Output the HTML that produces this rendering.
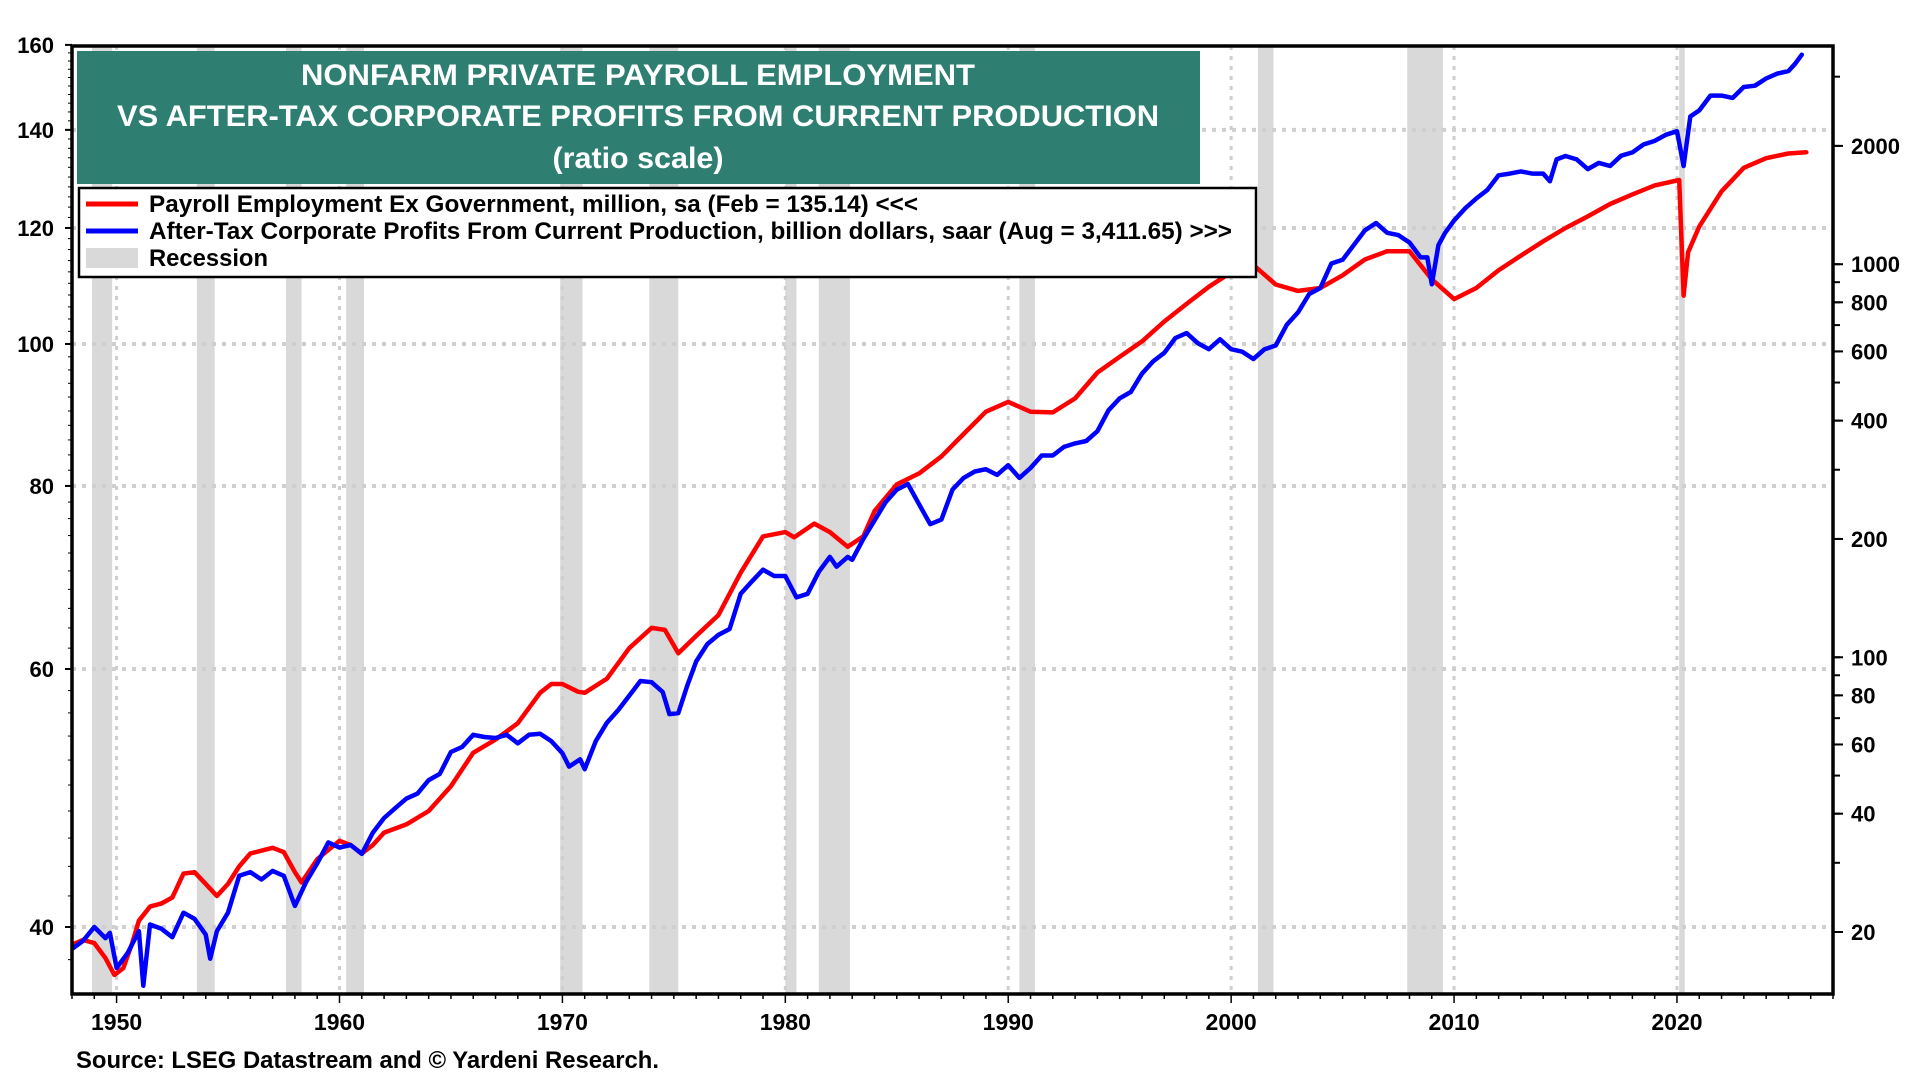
<!DOCTYPE html>
<html><head><meta charset="utf-8">
<style>
html,body{margin:0;padding:0;background:#fff;}
svg{display:block;font-family:"Liberation Sans",Arial,sans-serif;font-weight:bold;}
</style></head>
<body>
<svg id="chart" width="1920" height="1080" viewBox="0 0 1920 1080"></svg>
<script>
const recessionStarts=[1948.9,1953.6,1957.6,1960.3,1969.9,1973.9,1980.0,1981.5,1990.5,2001.2,2007.9,2020.1];
const recessionEnds=[1949.8,1954.4,1958.3,1961.1,1970.9,1975.2,1980.5,1982.9,1991.2,2001.9,2009.5,2020.35];
const payrollYears=[1948.0,1948.5,1949.0,1949.5,1949.9,1950.3,1950.7,1951.0,1951.5,1952.0,1952.5,1953.0,1953.5,1954.0,1954.5,1955.0,1955.5,1956.0,1957.0,1957.5,1958.0,1958.3,1959.0,1960.0,1960.5,1961.0,1961.5,1962.0,1963.0,1964.0,1965.0,1966.0,1967.0,1968.0,1969.0,1969.5,1970.0,1970.7,1971.0,1972.0,1973.0,1974.0,1974.6,1975.2,1976.0,1977.0,1978.0,1979.0,1980.0,1980.4,1981.3,1982.0,1982.8,1983.5,1984.0,1985.0,1986.0,1987.0,1988.0,1989.0,1990.0,1991.0,1992.0,1993.0,1994.0,1995.0,1996.0,1997.0,1998.0,1999.0,2000.0,2001.0,2002.0,2003.0,2004.0,2005.0,2006.0,2007.0,2008.0,2009.0,2010.0,2011.0,2012.0,2013.0,2014.0,2015.0,2016.0,2017.0,2018.0,2019.0,2020.1,2020.3,2020.5,2021.0,2022.0,2023.0,2024.0,2025.0,2025.8];
const payrollValues=[38.9,39.2,39.0,38.1,37.1,37.5,39.0,40.4,41.3,41.5,41.9,43.5,43.6,42.8,42.0,42.8,44.0,44.9,45.3,45.0,43.6,42.9,44.5,45.8,45.5,44.9,45.5,46.4,47.0,48.0,49.9,52.6,53.7,55.1,57.8,58.6,58.6,57.9,57.8,59.1,62.0,64.0,63.8,61.5,63.2,65.3,69.8,73.9,74.4,73.8,75.4,74.4,72.7,73.9,76.9,80.2,81.6,83.8,86.8,89.9,91.3,89.9,89.8,91.8,95.6,98.0,100.4,103.6,106.5,109.4,111.9,113.2,109.8,108.7,109.2,111.4,114.2,115.7,115.7,110.7,107.3,109.2,112.3,114.9,117.5,120.0,122.2,124.6,126.5,128.3,129.4,107.9,115.5,120.3,127.1,131.9,133.9,134.9,135.14];
const profitYears=[1948.0,1948.5,1949.0,1949.5,1949.7,1950.0,1950.5,1951.0,1951.2,1951.5,1952.0,1952.5,1953.0,1953.5,1954.0,1954.2,1954.5,1955.0,1955.5,1956.0,1956.5,1957.0,1957.5,1958.0,1958.5,1959.0,1959.5,1960.0,1960.5,1961.0,1961.5,1962.0,1962.5,1963.0,1963.5,1964.0,1964.5,1965.0,1965.5,1966.0,1966.5,1967.0,1967.5,1968.0,1968.5,1969.0,1969.5,1970.0,1970.3,1970.8,1971.0,1971.5,1972.0,1972.5,1973.0,1973.5,1974.0,1974.5,1974.8,1975.2,1975.6,1976.0,1976.5,1977.0,1977.5,1978.0,1978.5,1979.0,1979.5,1980.0,1980.5,1981.0,1981.5,1982.0,1982.3,1982.8,1983.0,1983.5,1984.0,1984.5,1985.0,1985.5,1986.0,1986.5,1987.0,1987.5,1988.0,1988.5,1989.0,1989.5,1990.0,1990.5,1991.0,1991.5,1992.0,1992.5,1993.0,1993.5,1994.0,1994.5,1995.0,1995.5,1996.0,1996.5,1997.0,1997.5,1998.0,1998.5,1999.0,1999.5,2000.0,2000.5,2001.0,2001.5,2002.0,2002.5,2003.0,2003.5,2004.0,2004.5,2005.0,2005.5,2006.0,2006.5,2007.0,2007.5,2008.0,2008.5,2008.8,2009.0,2009.3,2009.6,2010.0,2010.5,2011.0,2011.5,2012.0,2012.5,2013.0,2013.5,2014.0,2014.3,2014.6,2015.0,2015.5,2016.0,2016.5,2017.0,2017.5,2018.0,2018.5,2019.0,2019.5,2020.0,2020.3,2020.6,2021.0,2021.5,2022.0,2022.5,2023.0,2023.5,2024.0,2024.5,2025.0,2025.3,2025.6];
const profitValues=[18.1,19.0,20.6,19.3,19.9,16.2,17.7,20.1,14.6,20.9,20.4,19.4,22.4,21.6,19.7,17.1,20.1,22.4,27.8,28.4,27.2,28.6,27.8,23.3,26.8,29.9,33.8,32.8,33.3,31.6,35.8,39.0,41.3,43.7,45.0,48.7,50.5,57.4,59.1,63.5,62.7,62.3,63.5,60.4,63.5,63.9,61.2,57.0,52.7,55.0,51.9,61.2,68.2,73.3,79.9,87.0,86.4,81.6,71.7,72.1,84.6,97.6,108,114,118,145,156,167,161,161,142,145,165,180,170,180,177,200,223,248,267,276,245,218,224,267,286,297,301,291,308,286,303,326,326,343,350,355,376,425,456,473,527,566,595,649,668,630,608,644,608,599,574,608,621,702,754,840,870,1004,1026,1118,1219,1273,1202,1186,1136,1041,1041,889,1118,1202,1292,1388,1470,1546,1684,1700,1722,1700,1700,1625,1848,1885,1848,1746,1810,1778,1888,1925,2016,2060,2134,2180,1778,2376,2462,2686,2686,2650,2824,2845,2968,3055,3100,3236,3411.65];
const leftTicks=[40,60,80,100,120,140,160];
const rightTicks=[20,40,60,80,100,200,400,600,800,1000,2000];
const yearTicks=[1950,1960,1970,1980,1990,2000,2010,2020];

const NS='http://www.w3.org/2000/svg';
const svg=document.getElementById('chart');
const PL=72,PR=1833,PT=46,PB=994;
const X0=1948.0,X1=2027.0;
function xs(t){return PL+(t-X0)/(X1-X0)*(PR-PL);}
function yl(v){return 927-Math.log(v/40)*636.3;}
function yr(v){return 932-Math.log(v/20)*170.7;}
function mk(tag,attrs,parent){const e=document.createElementNS(NS,tag);for(const k in attrs)e.setAttribute(k,attrs[k]);(parent||svg).appendChild(e);return e;}

const plot=mk('g',{});


const clip=mk('clipPath',{id:'pc'});
mk('rect',{x:PL,y:PT,width:PR-PL,height:PB-PT},clip);
const inner=mk('g',{'clip-path':'url(#pc)'},plot);

for(let i=0;i<recessionStarts.length;i++){
  const r=mk('rect',{x:xs(recessionStarts[i]),y:PT,width:Math.max(4,xs(recessionEnds[i])-xs(recessionStarts[i])),height:PB-PT,fill:'#d9d9d9'},inner);
  
  
}
leftTicks.forEach(v=>{
  if(v===160)return;
  const l=mk('line',{x1:PL,x2:PR,y1:yl(v),y2:yl(v),stroke:'#cfcfcf','stroke-width':4,'stroke-dasharray':'4 6'},inner);
  
  
});
yearTicks.forEach(t=>{
  const l=mk('line',{x1:xs(t),x2:xs(t),y1:PT,y2:PB,stroke:'#cfcfcf','stroke-width':3,'stroke-dasharray':'4 6'},inner);
  
  
});
function line(xv,yv,sc,color,name){
  let d='';
  for(let i=0;i<xv.length;i++)d+=(i?'L':'M')+xs(xv[i]).toFixed(1)+' '+sc(yv[i]).toFixed(1);
  const p=mk('path',{d:d,fill:'none',stroke:color,'stroke-width':4.5,'stroke-linejoin':'round','stroke-linecap':'round'},inner);
  
  
}
line(payrollYears,payrollValues,yl,'#ff0000','payroll-line');
line(profitYears,profitValues,yr,'#0000ff','profits-line');

const fr=mk('rect',{x:PL,y:PT,width:PR-PL,height:PB-PT,fill:'none',stroke:'#000','stroke-width':3.5});



leftTicks.forEach(v=>{
  mk('line',{x1:PL-7,x2:PL,y1:yl(v),y2:yl(v),stroke:'#000','stroke-width':2});
  const t=mk('text',{x:PL-18,y:yl(v)+8,'text-anchor':'end','font-size':22,fill:'#000'});
  t.textContent=v;
  
  
});
for(let v=38;v<=160;v+=2){ mk('line',{x1:PL-4,x2:PL,y1:yl(v),y2:yl(v),stroke:'#000','stroke-width':1});}
const minorR=[20,30,40,50,60,70,80,90,100,200,300,400,500,600,700,800,900,1000,2000,3000];
minorR.forEach(v=>mk('line',{x1:PR,x2:PR+7,y1:yr(v),y2:yr(v),stroke:'#000','stroke-width':2}));
rightTicks.forEach(v=>{
  mk('line',{x1:PR,x2:PR+10,y1:yr(v),y2:yr(v),stroke:'#000','stroke-width':2});
  const t=mk('text',{x:PR+18,y:yr(v)+8,'text-anchor':'start','font-size':22,fill:'#000'});
  t.textContent=v;
  
  
});
for(let yv=1948;yv<=2027;yv++){
  mk('line',{x1:xs(yv),x2:xs(yv),y1:PB,y2:PB+(yv%10===0?9:5),stroke:'#000','stroke-width':1.5});
}
yearTicks.forEach(v=>{
  const t=mk('text',{x:xs(v),y:1030,'text-anchor':'middle','font-size':23,fill:'#000'});
  t.textContent=v;
  
  
});

const tb=mk('rect',{x:77,y:51,width:1123,height:133,fill:'#2e7f72'});


[['NONFARM PRIVATE PAYROLL EMPLOYMENT',85,674],['VS AFTER-TAX CORPORATE PROFITS FROM CURRENT PRODUCTION',126,1042],['(ratio scale)',168,171]].forEach(a=>{
  const t=mk('text',{x:638,y:a[1],'text-anchor':'middle','font-size':30,fill:'#fff',textLength:a[2],lengthAdjust:'spacingAndGlyphs'});
  t.textContent=a[0];
  
  
});

const lg=mk('rect',{x:79,y:188,width:1177,height:89,fill:'#fff',stroke:'#000','stroke-width':2.5});


const legendItems=[['#ff0000','Payroll Employment Ex Government, million, sa (Feb  = 135.14) <<<',204,'legend-entry-payroll',769],['#0000ff','After-Tax Corporate Profits From Current Production, billion dollars, saar (Aug  = 3,411.65) >>>',231,'legend-entry-profits',1083],['#d9d9d9','Recession',258,'legend-entry-recession',119]];
legendItems.forEach(it=>{
  if(it[3]==='legend-entry-recession') mk('rect',{x:86,y:it[2]-10,width:52,height:20,fill:it[0]});
  else mk('line',{x1:86,x2:138,y1:it[2],y2:it[2],stroke:it[0],'stroke-width':5});
  const t=mk('text',{x:149,y:it[2]+8,'font-size':24,fill:'#000',textLength:it[4],lengthAdjust:'spacingAndGlyphs'});
  t.textContent=it[1];
  
  
});

const src=mk('text',{x:76,y:1068,'font-size':24,fill:'#000',textLength:583,lengthAdjust:'spacingAndGlyphs'});
src.textContent='Source: LSEG Datastream and © Yardeni Research.';


</script>
</body></html>
